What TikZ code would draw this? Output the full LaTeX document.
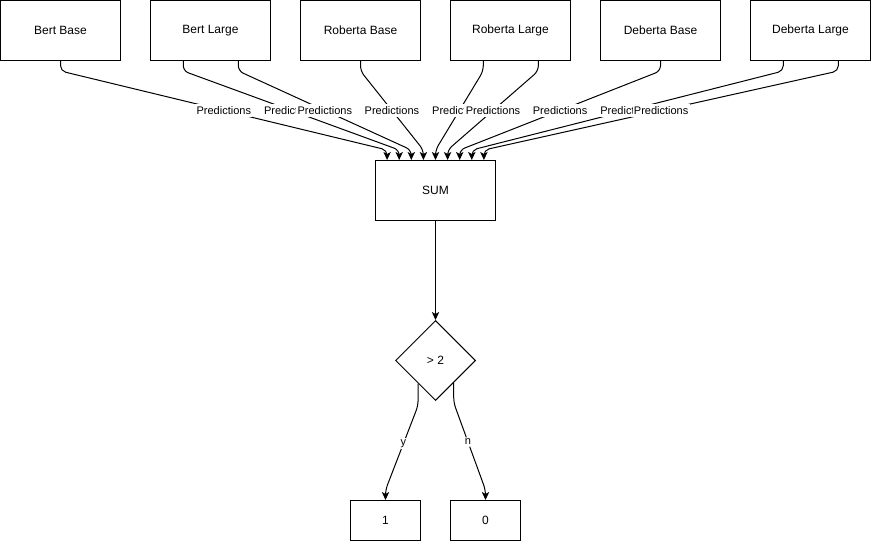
\documentclass[tikz,border=0pt]{standalone}
\usepackage{fontspec}
\setmainfont{Liberation Sans}
\usetikzlibrary{shapes.geometric,arrows.meta,calc}
\begin{document}
\begin{tikzpicture}[x=0.75pt,y=-0.75pt,
  model/.style={draw,line width=0.75pt,minimum width=90pt,minimum height=45pt,inner sep=0pt,font=\fontsize{9}{11}\selectfont},
  outbox/.style={draw,line width=0.75pt,minimum width=52.5pt,minimum height=30pt,inner sep=0pt,font=\fontsize{9}{11}\selectfont},
  test/.style={draw,diamond,aspect=1,line width=0.75pt,minimum size=60pt,inner sep=0pt,font=\fontsize{9}{11}\selectfont},
  flow/.style={draw,line width=0.75pt,rounded corners=4pt,-{Stealth[length=6pt,width=5.5pt,inset=1.5pt]}},
  tag/.style={fill=white,inner xsep=1pt,inner ysep=2pt,font=\fontsize{8.25}{10}\selectfont}
]
\useasboundingbox (-0.5,-0.5) rectangle (870.5,540.5);

% models
\node[model] (bb) at (60,30) {Bert Base};
\node[model] (bl) at (210,30) {Bert Large};
\node[model] (rb) at (360,30) {Roberta Base};
\node[model] (rl) at (510,30) {Roberta Large};
\node[model] (db) at (660,30) {Deberta Base};
\node[model] (dl) at (810,30) {Deberta Large};

% aggregation and decision
\node[model] (sum) at (435,190) {SUM};
\node[test] (gt) at (435,360) {> 2};
\node[outbox] (one) at (385,520) {1};
\node[outbox] (zero) at (485,520) {0};

% exit points on the model boxes
\coordinate (bb1) at (bb.south);
\coordinate (bl1) at ($(bl.south west)!0.275!(bl.south east)$);
\coordinate (bl2) at ($(bl.south west)!0.73!(bl.south east)$);
\coordinate (rb1) at (rb.south);
\coordinate (rl1) at ($(rl.south west)!0.275!(rl.south east)$);
\coordinate (rl2) at ($(rl.south west)!0.73!(rl.south east)$);
\coordinate (db1) at (db.south);
\coordinate (dl1) at ($(dl.south west)!0.275!(dl.south east)$);
\coordinate (dl2) at ($(dl.south west)!0.73!(dl.south east)$);

% entry points on top of SUM
\foreach \k in {1,...,9}
  \coordinate (in\k) at ($(sum.north west)!\k/10!(sum.north east)$);

% prediction connectors
\foreach \src/\k in {bb1/1,bl1/2,bl2/3,rb1/4,rl1/5,rl2/6,db1/7,dl1/8,dl2/9}
  \draw[flow] (\src) -- ($(\src)+(0,10)$)
    -- coordinate[midway] (mid\k) ($(in\k)+(0,-10)$) -- (in\k);

\foreach \k in {1,...,9}
  \node[tag] at (mid\k) {Predictions};

% threshold test
\draw[flow] (sum) -- (gt);

\coordinate (ys) at ($(gt.south)!0.43!(gt.west)$);
\coordinate (ns) at ($(gt.south)!0.45!(gt.east)$);
\draw[flow] (ys) -- ($(ys)+(0,22)$)
  -- node[pos=0.45,tag] {y} ($(one.north)+(0,-10)$) -- (one.north);
\draw[flow] (ns) -- ($(ns)+(0,20)$)
  -- node[pos=0.45,tag] {n} ($(zero.north)+(0,-10)$) -- (zero.north);
\end{tikzpicture}
\end{document}
